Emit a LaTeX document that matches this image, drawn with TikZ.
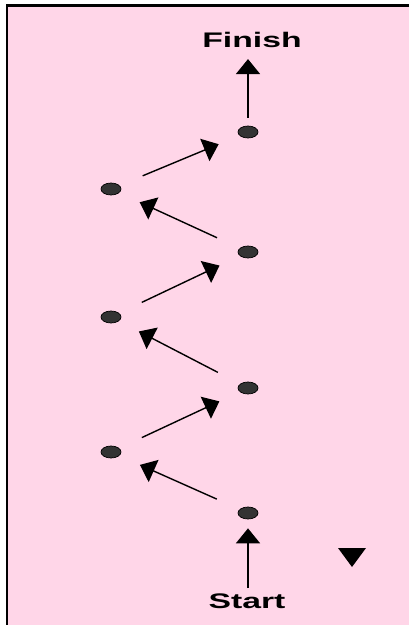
\documentclass[tikz,border=0pt]{standalone}
\usepackage{fontspec}
\setmainfont{Liberation Sans}
\usetikzlibrary{arrows.meta,shapes.geometric}
\definecolor{pinkbg}{RGB}{255,214,232}
\definecolor{spotgray}{RGB}{51,51,51}

\begin{document}
\begin{tikzpicture}[
  x=0.02cm, y=-0.02cm,
  spot/.style={ellipse, draw=black, fill=spotgray, line width=0.4pt,
               minimum width=0.4cm, minimum height=0.24cm, inner sep=0pt},
  lbl/.style={font=\fontsize{12}{14}\selectfont\bfseries, inner sep=0pt},
  move/.style={->, line width=0.8pt, shorten <=0.5cm, shorten >=0.45cm},
  >={Triangle[length=0.3cm, width=0.48cm]}]
  \def\xL{111}\def\xR{248}
  \useasboundingbox (0,0) rectangle (409,625);
  \fill[pinkbg] (7,5) rectangle (409,625);
  \draw[line width=1.3pt] (409,5.5) -- (7,5.5) -- (7,625);
  % zigzag of steps
  \node[spot] (r1) at (\xR,132) {};
  \node[spot] (l1) at (\xL,189) {};
  \node[spot] (r2) at (\xR,252) {};
  \node[spot] (l2) at (\xL,317) {};
  \node[spot] (r3) at (\xR,388) {};
  \node[spot] (l3) at (\xL,452) {};
  \node[spot] (r4) at (\xR,513) {};
  \node[lbl] (finish) at (252,40) {\scalebox{1.6}[1]{Finish}};
  \node[lbl] (start) at (247,601) {\scalebox{1.6}[1]{Start}};
  \draw[->, line width=1pt, shorten <=0.1cm, shorten >=0.18cm]
    (start.north -| r4) -- (r4);
  \draw[move] (r4) -- (l3);
  \draw[move] (l3) -- (r3);
  \draw[move] (r3) -- (l2);
  \draw[move] (l2) -- (r2);
  \draw[move] (r2) -- (l1);
  \draw[move] (l1) -- (r1);
  \draw[->, line width=1pt, shorten <=0.16cm, shorten >=0.22cm]
    (r1) -- (r1 |- finish.south);
  % stray marker
  \fill (338,548) -- (366,548) -- (352,567) -- cycle;
\end{tikzpicture}
\end{document}
